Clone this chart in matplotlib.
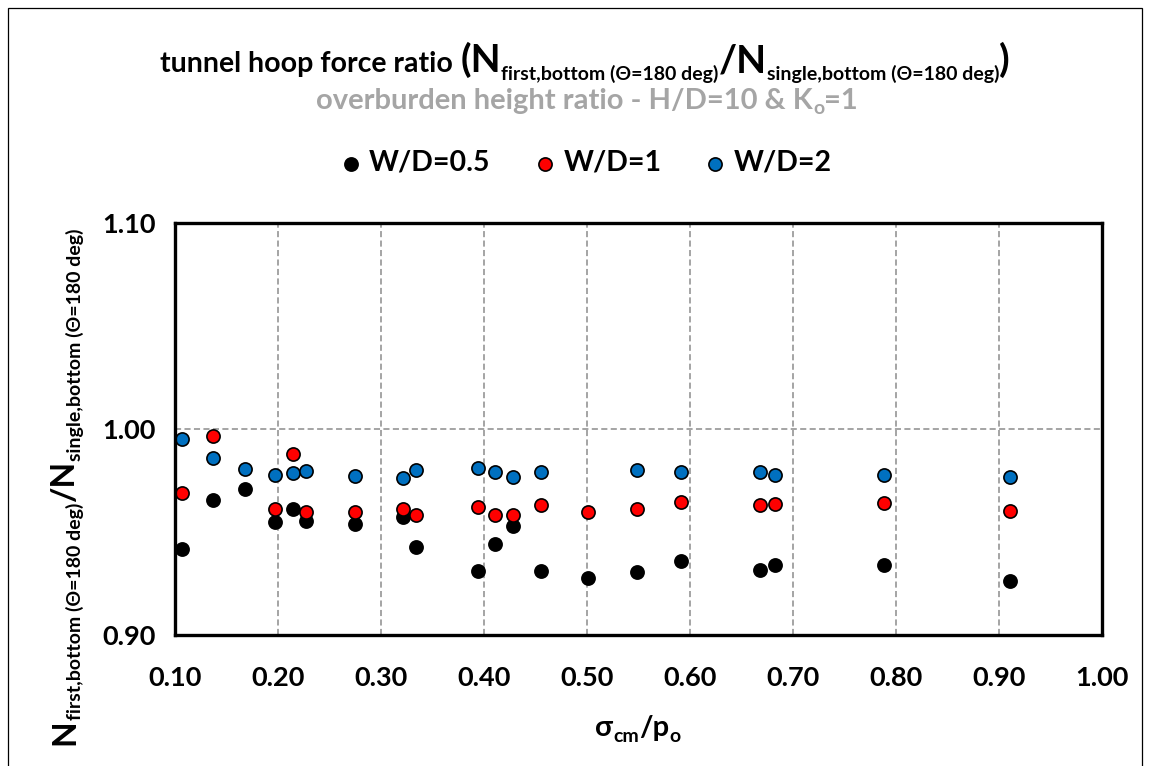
import matplotlib
matplotlib.use("Agg")
import matplotlib.pyplot as plt
import numpy as np
from matplotlib.patches import Rectangle

plt.rcParams["font.family"] = ["Lato", "DejaVu Sans"]
plt.rcParams["font.weight"] = "bold"

# ---- data -------------------------------------------------------------
sigma_ratio = [0.107, 0.137, 0.1675, 0.1975, 0.2142, 0.2275, 0.2743, 0.321,
               0.334, 0.3946, 0.411, 0.4279, 0.455, 0.5014, 0.5482, 0.5915,
               0.6683, 0.6825, 0.7883, 0.9103]
nan = np.nan
ratio_wd05 = [0.9417, 0.9655, 0.9707, 0.9547, 0.9610, 0.9555, 0.9539, 0.9574,
              0.9426, 0.9309, 0.9442, 0.9529, 0.9309, 0.9278, 0.9304, 0.9361,
              0.9317, 0.9341, 0.9340, 0.9262]
ratio_wd1 = [0.9691, 0.9966, nan, 0.9612, 0.9877, 0.9599, 0.9597, 0.9613,
             0.9581, 0.9620, 0.9581, 0.9581, 0.9629, 0.9595, 0.9612, 0.9647,
             0.9631, 0.9637, 0.9641, 0.9603]
ratio_wd2 = [0.9951, 0.9861, 0.9806, 0.9775, 0.9785, 0.9798, 0.9772, 0.9760,
             0.9799, 0.9812, 0.9793, 0.9768, 0.9790, nan, 0.9801, 0.9793,
             0.9790, 0.9775, 0.9778, 0.9769]

series_labels = ["W/D=0.5", "W/D=1", "W/D=2"]
series_colors = ["#000000", "#FF0000", "#0070C0"]

x_ticks = [0.10, 0.20, 0.30, 0.40, 0.50, 0.60, 0.70, 0.80, 0.90, 1.00]
y_ticks = [0.90, 1.00, 1.10]

# ---- figure -----------------------------------------------------------
W, H = 1150, 766
fig = plt.figure(figsize=(W / 100, H / 100), dpi=100)
ax = fig.add_axes([175 / W, 1 - 635 / H, (1102 - 175) / W, (635 - 223) / H])

for vals, lab, col in zip([ratio_wd05, ratio_wd1, ratio_wd2], series_labels, series_colors):
    ax.scatter(sigma_ratio, vals, s=90, c=col, edgecolors="black",
               linewidths=1.2, zorder=3, label=lab)

ax.set_xlim(0.1, 1.0)
ax.set_ylim(0.9, 1.1)
ax.set_xticks(x_ticks)
ax.set_xticklabels([f"{v:.2f}" for v in x_ticks])
ax.set_yticks(y_ticks)
ax.set_yticklabels([f"{v:.2f}" for v in y_ticks])
ax.grid(True, color="#8c8c8c", linestyle=(0, (4, 2.2)), linewidth=1.1)
ax.set_axisbelow(True)
for sp in ax.spines.values():
    sp.set_linewidth(2.4)
    sp.set_zorder(4)
ax.tick_params(axis="both", length=0, labelsize=19.5)
ax.tick_params(axis="x", pad=22)
ax.tick_params(axis="y", pad=14)

fig.legend(loc="center", bbox_to_anchor=(587 / W, 1 - 163 / H), ncol=3,
           frameon=False, handlelength=0.6, handletextpad=0.35,
           columnspacing=1.6, prop={"size": 20.5, "weight": "bold"})

# outer frame of the chart area
fig.patches.append(Rectangle((8 / W, -0.02), (1142 - 8) / W, 1 - 8 / H + 0.02,
                             transform=fig.transFigure, fill=False,
                             edgecolor="black", linewidth=0.9))

renderer = fig.canvas.get_renderer()


def place_runs(runs, x_px, y_px, rotation=0, color="black"):
    """Lay out (text, size, rise_px, gap_px) runs along one baseline,
    centred on (x_px, y_px) measured from the top-left corner."""
    placed = []
    pos = 0.0
    for text, size, rise, gap in runs:
        t = fig.text(0, 0, text, fontsize=size, fontweight="bold", color=color,
                     rotation=rotation, rotation_mode="anchor",
                     ha="left", va="baseline")
        bb = t.get_window_extent(renderer)
        length = bb.width if rotation == 0 else bb.height
        placed.append((t, pos, rise))
        pos += length + gap
    start = -pos / 2
    for t, p, rise in placed:
        if rotation == 0:
            px, py = x_px + start + p, (H - y_px) + rise
        else:
            px, py = x_px - rise, (H - y_px) + start + p
        t.set_position((px / W, py / H))


# title, first line
place_runs([("tunnel hoop force ratio", 20.5, 0, 8),
            ("(N", 28, 0, 0),
            ("first,bottom (Θ=180 deg)", 14, -8, 0),
            ("/N", 28, 0, 0),
            ("single,bottom (Θ=180 deg)", 14, -8, 0),
            (")", 28, 0, 0)], 585, 72)
# title, second line
place_runs([("overburden height ratio - H/D=10 & K", 21, 0, 0),
            ("o", 14, -5, 0),
            ("=1", 21, 0, 0)], 587, 109, color="#A5A5A5")

# y-axis title
place_runs([("N", 24, 0, 0),
            ("first,bottom (Θ=180 deg)", 14, -7, 0),
            ("/N", 24, 0, 0),
            ("single,bottom (Θ=180 deg)", 14, -7, 0)], 74, 487, rotation=90)

# x-axis title
place_runs([("σ", 21, 0, 0),
            ("cm", 14, -6, 0),
            ("/p", 21, 0, 0),
            ("o", 14, -6, 0)], 638, 736)

fig.savefig("out.png", dpi=100)
